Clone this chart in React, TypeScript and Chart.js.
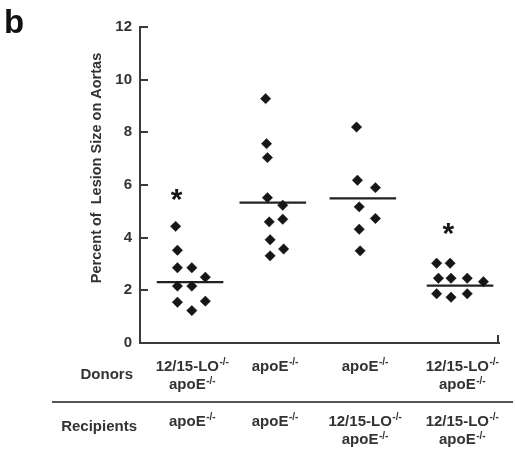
import React, { useEffect, useRef } from "react";
import { Chart, registerables } from "chart.js";

Chart.register(...registerables);

// ---- data ----
const groupPositions = [1.0, 1.92, 2.92, 4.0];

const g1Values = [4.43, 3.52, 2.86, 2.86, 2.5, 2.16, 2.16, 1.55, 1.59, 1.23];
const g1Jitter = [-0.16, -0.14, -0.14, 0.02, 0.17, -0.14, 0.02, -0.14, 0.17, 0.02];

const g2Values = [9.28, 7.57, 7.04, 5.52, 5.23, 4.6, 4.7, 3.92, 3.57, 3.31];
const g2Jitter = [-0.08, -0.07, -0.06, -0.06, 0.11, -0.04, 0.11, -0.03, 0.12, -0.03];

const g3Values = [8.2, 6.18, 5.9, 5.17, 4.73, 4.32, 3.5];
const g3Jitter = [-0.07, -0.06, 0.14, -0.04, 0.14, -0.04, -0.03];

const g4Values = [3.03, 3.03, 2.46, 2.46, 2.46, 2.33, 1.87, 1.74, 1.87];
const g4Jitter = [-0.26, -0.11, -0.24, -0.1, 0.08, 0.26, -0.26, -0.1, 0.08];

const medians = [2.31, 5.33, 5.49, 2.18];

const significantGroups = [0, 3];
const asteriskValues = [5.74, 4.45];
const asteriskJitter = [-0.15, -0.13];

const yTickValues = [0, 2, 4, 6, 8, 10, 12];

const donorsLabel = "Donors";
const recipientsLabel = "Recipients";
const donors = [["12/15-LO", "apoE"], ["apoE"], ["apoE"], ["12/15-LO", "apoE"]];
const recipients = [["apoE"], ["apoE"], ["12/15-LO", "apoE"], ["12/15-LO", "apoE"]];
const knockoutSup = "-/-";
const yTitle = "Percent of  Lesion Size on Aortas";
const panelLetter = "b";

// ---- styling ----
const FONT = "'Liberation Sans', Arial, Helvetica, sans-serif";
const TEXT = "#333333";
const INK = "#161616";
const AXIS = "#3a3a3a";

const groups = [
  [g1Values, g1Jitter],
  [g2Values, g2Jitter],
  [g3Values, g3Jitter],
  [g4Values, g4Jitter],
] as const;

function drawKO(ctx: CanvasRenderingContext2D, base: string, cx: number, cy: number) {
  ctx.font = `bold 15px ${FONT}`;
  const wb = ctx.measureText(base).width;
  ctx.font = `bold 10px ${FONT}`;
  const ws = ctx.measureText(knockoutSup).width;
  const left = cx - (wb + ws) / 2;
  const baseline = cy + 5.5;
  ctx.textAlign = "left";
  ctx.textBaseline = "alphabetic";
  ctx.font = `bold 15px ${FONT}`;
  ctx.fillText(base, left, baseline);
  ctx.font = `bold 10px ${FONT}`;
  ctx.fillText(knockoutSup, left + wb + 0.5, baseline - 5.5);
}

const decorPlugin = {
  id: "decor",
  afterDraw(chart: any) {
    const ctx: CanvasRenderingContext2D = chart.ctx;
    const xs = chart.scales.x;
    const ys = chart.scales.y;
    const area = chart.chartArea;
    ctx.save();
    // inward y ticks
    ctx.strokeStyle = AXIS;
    ctx.lineWidth = 2;
    yTickValues.forEach((v) => {
      const py = Math.round(ys.getPixelForValue(v));
      ctx.beginPath();
      ctx.moveTo(area.left, py);
      ctx.lineTo(area.left + 8, py);
      ctx.stroke();
    });
    // right end tick of x axis
    ctx.beginPath();
    ctx.moveTo(area.right - 1, area.bottom);
    ctx.lineTo(area.right - 1, area.bottom - 8);
    ctx.stroke();

    // y title
    ctx.fillStyle = TEXT;
    ctx.save();
    ctx.translate(97, 168);
    ctx.rotate(-Math.PI / 2);
    ctx.font = `bold 14.5px ${FONT}`;
    ctx.textAlign = "center";
    ctx.textBaseline = "middle";
    ctx.fillText(yTitle, 0, 0);
    ctx.restore();

    // panel letter
    ctx.fillStyle = "#111";
    ctx.font = `bold 33px ${FONT}`;
    ctx.textAlign = "left";
    ctx.textBaseline = "alphabetic";
    ctx.fillText(panelLetter, 4, 33);

    // asterisks
    ctx.fillStyle = INK;
    ctx.font = `bold 30px ${FONT}`;
    ctx.textAlign = "center";
    significantGroups.forEach((g, i) => {
      const px = xs.getPixelForValue(groupPositions[g] + asteriskJitter[i]);
      const py = ys.getPixelForValue(asteriskValues[i]);
      ctx.fillText("*", px, py + 17);
    });

    // category rows
    ctx.fillStyle = TEXT;
    ctx.font = `bold 15px ${FONT}`;
    ctx.textAlign = "right";
    ctx.textBaseline = "middle";
    ctx.fillText(donorsLabel, 133, 375);
    ctx.fillText(recipientsLabel, 137, 427);

    groupPositions.forEach((pos, i) => {
      const cx = xs.getPixelForValue(pos);
      donors[i].forEach((t, j) => drawKO(ctx, t, cx + 2, 365 + j * 18.5));
      recipients[i].forEach((t, j) => drawKO(ctx, t, cx + 2, 420 + j * 18.5));
    });

    // separator
    ctx.strokeStyle = "#555";
    ctx.lineWidth = 2;
    ctx.beginPath();
    ctx.moveTo(52, 402);
    ctx.lineTo(513, 402);
    ctx.stroke();
    ctx.restore();
  },
};

export default function App() {
  const ref = useRef<HTMLCanvasElement>(null);
  useEffect(() => {
    if (!ref.current) return;
    const pointSets = groups.map(([vals, jit], gi) => ({
      type: "scatter" as const,
      data: vals.map((v, k) => ({ x: groupPositions[gi] + jit[k], y: v })),
      pointStyle: "rectRot",
      pointRadius: 5.2,
      pointBorderWidth: 0.5,
      backgroundColor: INK,
      borderColor: INK,
      order: 1,
    }));
    const medianSets = medians.map((m, gi) => ({
      type: "line" as const,
      data: [
        { x: groupPositions[gi] - 0.37, y: m },
        { x: groupPositions[gi] + 0.37, y: m },
      ],
      borderColor: "#222",
      borderWidth: 2.2,
      pointRadius: 0,
      fill: false,
      order: 2,
    }));
    const chart = new Chart(ref.current, {
      type: "scatter",
      data: { datasets: [...pointSets, ...medianSets] as any },
      options: {
        animation: false,
        responsive: false,
        layout: { padding: { top: 27, right: 16, left: 0, bottom: 0 } },
        plugins: { legend: { display: false }, tooltip: { enabled: false }, title: { display: false } },
        scales: {
          x: {
            type: "linear",
            min: 0.444,
            max: 4.433,
            grid: { display: false, drawTicks: false },
            border: { display: true, color: AXIS, width: 2 },
            ticks: { display: false },
            afterFit: (s: any) => {
              s.height = 111;
            },
          },
          y: {
            type: "linear",
            min: 0,
            max: 12,
            grid: { display: false, drawTicks: false },
            border: { display: true, color: AXIS, width: 2 },
            ticks: {
              stepSize: 2,
              padding: 8,
              color: TEXT,
              font: { family: FONT, size: 15, weight: "bold" },
            },
            afterFit: (s: any) => {
              s.width = 140;
            },
          },
        },
      },
      plugins: [decorPlugin],
    });
    return () => chart.destroy();
  }, []);
  return (
    <div style={{ position: "absolute", left: 0, top: 0, width: 515, height: 454, background: "#fff" }}>
      <canvas ref={ref} width={515} height={454} />
    </div>
  );
}
